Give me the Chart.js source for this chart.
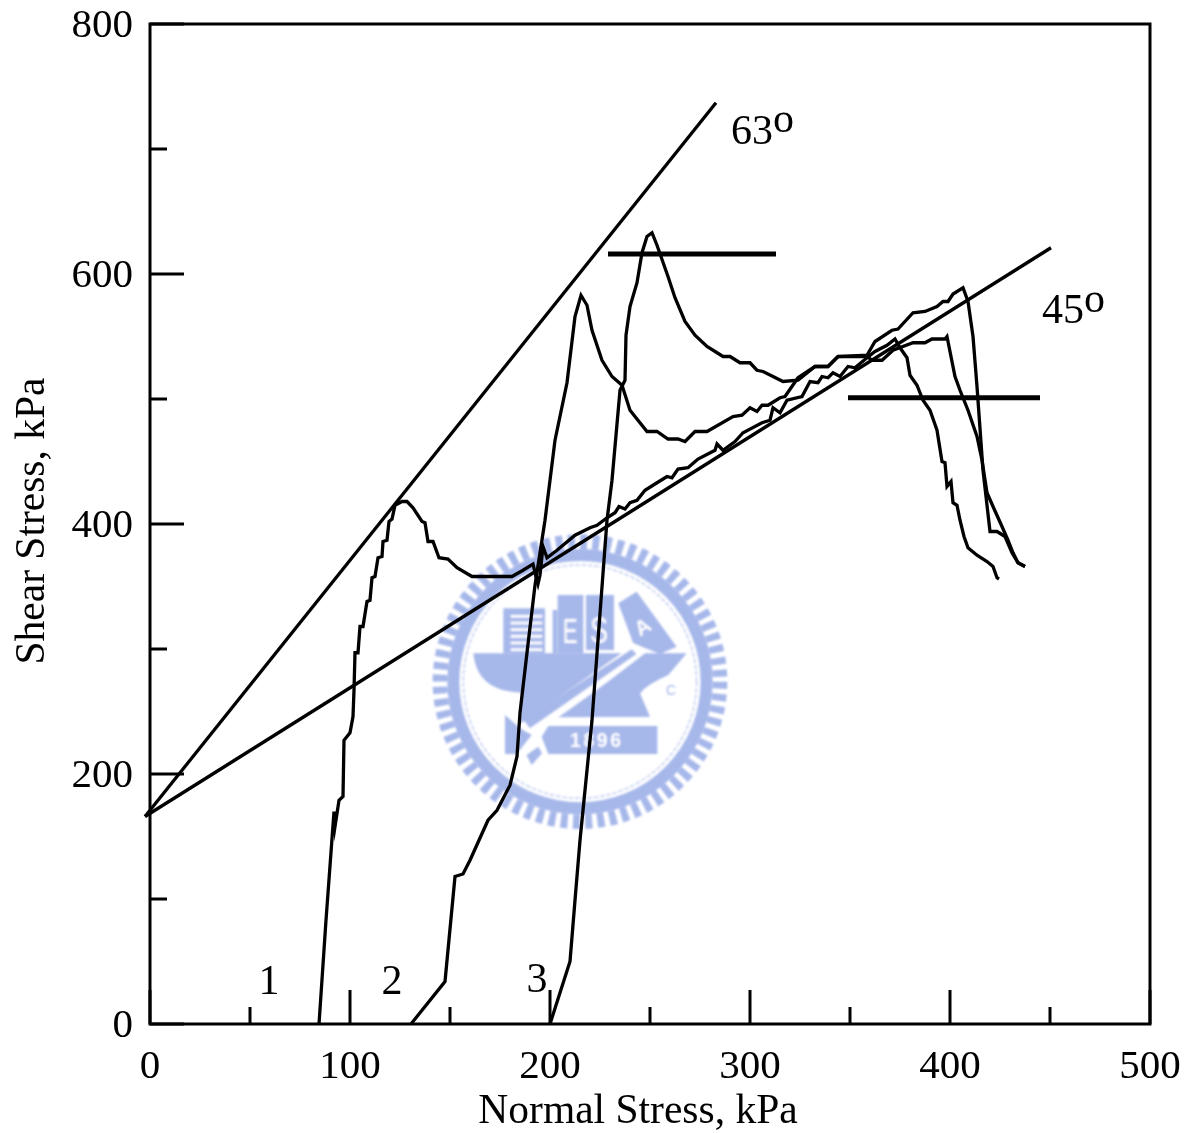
<!DOCTYPE html>
<html>
<head>
<meta charset="utf-8">
<title>Shear Stress vs Normal Stress</title>
<script src="https://cdn.jsdelivr.net/npm/chart.js@4"></script>
<style>
  html, body { margin: 0; padding: 0; background: #fff; }
  #wrap { position: relative; width: 1194px; height: 1133px; overflow: hidden; }
  #wrap svg, #wrap canvas { position: absolute; left: 0; top: 0; }
</style>
</head>
<body>
<div id="wrap">
  <!-- university seal behind the plot -->
  <svg width="1194" height="1133" viewBox="0 0 1194 1133">
    <defs><filter id="soft"><feGaussianBlur stdDeviation="2.6"/></filter></defs>
    <g transform="translate(420 520) scale(0.3333)" filter="url(#soft)" fill="#a6b7ea">
      <circle cx="480" cy="485" r="420" fill="none" stroke="#a6b7ea" stroke-width="44" stroke-dasharray="21 15.65"/>
      <circle cx="480" cy="485" r="380" fill="none" stroke="#a6b7ea" stroke-width="36"/>
      <circle cx="480" cy="485" r="350" fill="none" stroke="#c9d3f2" stroke-width="5" stroke-dasharray="14 5"/>
      <rect x="250" y="265" width="125" height="135"/>
      <g fill="#fff">
        <rect x="272" y="285" width="95" height="8"/><rect x="272" y="305" width="95" height="8"/>
        <rect x="272" y="325" width="95" height="8"/><rect x="272" y="345" width="95" height="8"/>
        <rect x="272" y="365" width="95" height="8"/><rect x="272" y="385" width="95" height="8"/>
      </g>
      <rect x="398" y="270" width="14" height="130" stroke-dasharray="8 10"/>
      <rect x="413" y="225" width="77" height="175"/>
      <rect x="498" y="225" width="84" height="165"/>
      <polygon points="595,250 650,215 770,380 720,402 640,370"/>
      <path d="M160 400 H800 L745 465 C690 490 640 520 655 555 L690 590 H400 L300 610 L305 518 C230 515 170 490 160 400Z"/>
      <polygon points="645,372 675,400 420,595 340,640 300,612" fill="#fff"/>
      <polygon points="635,388 650,402 330,625 310,600"/>
      <polygon points="415,592 668,412 660,520 690,590"/>
      <polygon points="255,585 300,625 335,645 290,702 255,702"/>
      <polygon points="320,705 355,680 366,700 335,735"/>
      <polygon points="385,618 712,618 712,702 385,702 365,650"/>
      <text x="450" y="680" font-family="Liberation Sans" font-weight="bold" font-size="58" letter-spacing="8" fill="#fff">1896</text>
      <text transform="translate(428 368) scale(0.62 1)" font-family="Liberation Sans" font-size="108" fill="#fff">E</text>
      <text transform="translate(510 368) scale(0.75 1)" font-family="Liberation Sans" font-size="108" fill="#fff">S</text>
      <text transform="translate(660 350) rotate(-32)" font-family="Liberation Sans" font-weight="bold" font-size="62" fill="#fff">A</text>
      <text x="738" y="525" font-family="Liberation Sans" font-size="42">C</text>
    </g>
  </svg>
  <canvas id="myChart" width="1194" height="1133"></canvas>
</div>
<script>
// Curve 1
const curva1_x = [84.5,88,92,92.5,94.5,96.5,97,100,101.5,102,102.5,104,105,106.5,108.5,110,111,112.5,114,116,116.5,118.5,119.5,121,122.5,126,128.5,131.5,136,137.5,139,141.5,144.5,149,153.5,161,181,186.5,191.5,193,194,195,196.5,198.5,203.5,212.5,220,223.5,228.5,232.5,234.5,237.5,240,243.5,247.5,253.5,258.5,261,264,269,274,282.5,283.5,286.5,292.5,296.5,306,310,311.5,315,318.5,326,330,334,336,339,341.5,345,349,352.5,358.5,362.5,368.5,372.5,375,378.5,380,383.5,386.5,390,393.5,396,397.5,398.5,400.5,401.5,403.5,405,407,409,413.5,418.5,421.5,423.5,424.5];
const curva1_y = [0,83,170,158,179,182,227,233,246,267,297,297,318,318,338,339,357,358,373,374,386,387,402,404,415,418,418,413,402,401,386,386,373,372,365,358,358,363,368,358,352,359,382,373,379,391,397,399,405,409,414,412,417,419,427,433,438,437,444,445,452,459,464,459,466,473,481,483,493,489,499,502,514,513,518,517,521,518,526,525,533,538,543,548,541,533,519,511,499,491,475,450,449,430,434,417,415,403,390,381,375,370,366,357,356];

// Curve 2
const curva2_x = [130.5,147.5,152.5,156.5,160,169,173.5,180,183.5,185,188.5,192.5,197.5,202.5,208.5,212.5,215.5,218.5,221,226,231,236,240,248.5,253.5,259,264,267.5,272.5,278.5,291.5,296,300,303.5,306,309,315,317.5,324,332.5,339,344,358.5,361,366,371.5,381.5,387.5,391,397.5,398.5,402.5,405,409,413.5,416,418.5,421.5,426,429,431.5,434,437.5];
const curva2_y = [0,34,118,120,131,163,171,191,214,249,297,351,403,467,513,566,583,575,555,531,518,511,491,474,474,468,468,466,474,474,486,487,493,490,495,495,501,502,517,526,526,534,534,531,531,539,545,545,548,548,550,518,507,491,470,451,425,414,398,387,377,369,366];

// Curve 3
const curva3_x = [200,210,212.5,215,221,228.5,231,235,237.5,238,240,243.5,246,248.5,251,253.5,259,262.5,267.5,272.5,278.5,286.5,290,295,300,303.5,306.5,311.5,316.5,324,332.5,339,344,358.5,362.5,371,374,381.5,387.5,393.5,396.5,399,401.5,406.5,409,411.5,413.5,416.5,420,423.5,427.5,431,434,437.5];
const curva3_y = [0,50,99,147,243,403,435,507,515,551,574,593,617,630,633,623,598,581,562,551,542,534,534,529,529,523,522,518,514,515,526,526,534,535,546,555,556,569,570,574,578,578,584,589,578,550,510,443,394,394,390,377,369,366];

// Failure envelopes and the two horizontal reference bars
const recta63_x = [-2.5, 283];
const recta63_y = [166, 737];
const recta45_x = [-2.5, 450.5];
const recta45_y = [166, 621];
const barra1_x = [229, 313];
const barra1_y = [616, 616];
const barra2_x = [349, 445];
const barra2_y = [501, 501];

const etiquetas = [
  { text: "63", x: 290.5, y: 704 },
  { text: "o", x: 311.5, y: 714 },
  { text: "45", x: 446, y: 561 },
  { text: "o", x: 467, y: 570 },
  { text: "1", x: 59.5, y: 24, align: "center" },
  { text: "2", x: 121, y: 24, align: "center" },
  { text: "3", x: 193.5, y: 26, align: "center" },
];

const titulo_x = "Normal Stress, kPa";
const titulo_y = "Shear Stress, kPa";

function puntos(xs, ys) {
  return xs.map((x, i) => ({ x: x, y: ys[i] }));
}

function serie(xs, ys, ancho) {
  return {
    data: puntos(xs, ys),
    borderColor: "#000",
    borderWidth: ancho,
    pointRadius: 0,
    fill: false,
    tension: 0,
    clip: false,
    showLine: true,
  };
}

// Frame, inward ticks and the free text
const marco = {
  id: "marco",
  afterDraw(chart) {
    const { ctx, chartArea: a, scales } = chart;
    ctx.save();
    ctx.strokeStyle = "#000";
    ctx.lineWidth = 3;
    ctx.strokeRect(a.left, a.top, a.right - a.left, a.bottom - a.top);

    scales.x.ticks.forEach((t) => {
      const px = scales.x.getPixelForValue(t.value);
      const largo = t.value % 100 === 0 ? 34 : 17;
      ctx.beginPath();
      ctx.moveTo(px, a.bottom);
      ctx.lineTo(px, a.bottom - largo);
      ctx.stroke();
    });
    scales.y.ticks.forEach((t) => {
      const py = scales.y.getPixelForValue(t.value);
      const largo = t.value % 200 === 0 ? 34 : 17;
      ctx.beginPath();
      ctx.moveTo(a.left, py);
      ctx.lineTo(a.left + largo, py);
      ctx.stroke();
    });

    ctx.fillStyle = "#000";
    ctx.font = "42px 'Liberation Serif'";
    ctx.textBaseline = "alphabetic";
    etiquetas.forEach((e) => {
      ctx.textAlign = e.align || "left";
      ctx.fillText(e.text, scales.x.getPixelForValue(e.x), scales.y.getPixelForValue(e.y));
    });

    ctx.font = "41.5px 'Liberation Serif'";
    ctx.textAlign = "center";
    ctx.textBaseline = "middle";
    ctx.fillText(titulo_x, 638, 1112);
    ctx.translate(33, 521);
    ctx.rotate(-Math.PI / 2);
    ctx.fillText(titulo_y, 0, 0);
    ctx.restore();
  },
};

const canvas = document.getElementById("myChart");
const ctx = canvas.getContext("2d");
new Chart(ctx, {
  type: "scatter",
  data: {
    datasets: [
      serie(curva1_x, curva1_y, 3.3),
      serie(curva2_x, curva2_y, 3.3),
      serie(curva3_x, curva3_y, 3.3),
      serie(recta63_x, recta63_y, 3.3),
      serie(recta45_x, recta45_y, 3.3),
      serie(barra1_x, barra1_y, 5),
      serie(barra2_x, barra2_y, 5),
    ],
  },
  options: {
    responsive: false,
    animation: false,
    layout: { padding: { top: 24, right: 44, left: 0, bottom: 0 } },
    plugins: {
      legend: { display: false },
      tooltip: { enabled: false },
    },
    scales: {
      x: {
        type: "linear",
        min: 0,
        max: 500,
        border: { display: false },
        grid: { display: false },
        afterFit(scale) {
          scale.height = 109;
          scale.paddingLeft = 0;
          scale.paddingRight = 0;
        },
        ticks: {
          stepSize: 50,
          autoSkip: false,
          maxRotation: 0,
          padding: 11,
          color: "#000",
          font: { family: "Liberation Serif", size: 41 },
          callback: (v) => (v % 100 === 0 ? String(v) : ""),
        },
      },
      y: {
        type: "linear",
        min: 0,
        max: 800,
        border: { display: false },
        grid: { display: false },
        afterFit(scale) {
          scale.width = 150;
          scale.paddingTop = 0;
          scale.paddingBottom = 0;
        },
        ticks: {
          stepSize: 100,
          autoSkip: false,
          padding: 9,
          labelOffset: 2,
          color: "#000",
          font: { family: "Liberation Serif", size: 41 },
          callback: (v) => (v % 200 === 0 ? String(v) : ""),
        },
      },
    },
  },
  plugins: [marco],
});
</script>
</body>
</html>
